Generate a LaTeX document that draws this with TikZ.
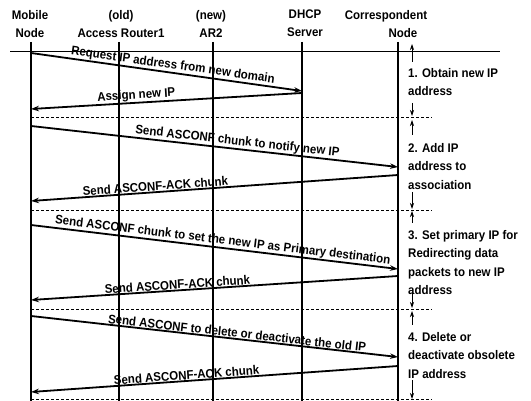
\documentclass[tikz,border=0pt]{standalone}
\usepackage{fontspec}
\setmainfont{Liberation Sans}[FakeStretch=0.92]
\usetikzlibrary{arrows.meta}
\tikzset{head/.style={anchor=north,align=center,inner sep=0pt,
font=\bfseries\fontsize{12.5}{18}\selectfont}}
\tikzset{lifeline/.style={line width=1.1pt}}
\tikzset{msg/.style={line width=1.8pt,-{Stealth[length=8pt,width=5.5pt]}}}
\tikzset{msglabel/.style={sloped,above=0.5pt,inner sep=0pt,
font=\bfseries\fontsize{12.5}{15}\selectfont}}
\tikzset{phasesep/.style={dash pattern=on 3pt off 2pt,line width=0.6pt}}
\tikzset{phasearrow/.style={line width=0.7pt,-{Stealth[length=6pt,width=4pt]}}}
\tikzset{phasetext/.style={anchor=north west,align=left,inner sep=0pt,
font=\bfseries\fontsize{12.5}{18.5}\selectfont}}

\begin{document}
\begin{tikzpicture}[x=1pt,y=-1pt]
        \useasboundingbox (0,0) rectangle (531,401);

        \node[head] (mn) at (30,10) {Mobile\\Node};
        \node[head] (arA) at (121,10) {(old)\\Access Router1};
        \node[head] (arB) at (211,10) {(new)\\AR2};
        \node[head] (dhcp) at (305,10) {DHCP\\Server};
        \node[head] (cn) at (386,10) {Correspondent\\\hspace*{34pt}Node};

        \foreach \x/\n in {31/mn,119/arA,213/arB,302/dhcp,398/cn} {
            \coordinate (\n top) at (\x,42);
            \coordinate (\n bot) at (\x,401);
            \draw[lifeline] (\n top) -- (\n bot);
        }

        \coordinate (rulel) at (10,51);
        \coordinate (ruler) at (500,51);
        \draw[line width=0.8pt] (rulel) -- (ruler);

        \foreach \y/\n in {117/sepA,210/sepB,309/sepC,399/sepD} {
            \coordinate (\n l) at (31,\y);
            \coordinate (\n r) at (432,\y);
            \draw[phasesep] (\n l) -- (\n r);
        }

        % messages
        \coordinate (mnA) at (31,53);    \coordinate (dhcpA) at (302,91);
        \coordinate (dhcpB) at (302,93); \coordinate (mnB) at (31,109);
        \coordinate (mnC) at (31,126);   \coordinate (cnC) at (398,167);
        \coordinate (cnD) at (398,175);  \coordinate (mnD) at (31,201);
        \coordinate (mnE) at (31,225);   \coordinate (cnE) at (398,269);
        \coordinate (cnF) at (398,276);  \coordinate (mnF) at (31,300);
        \coordinate (mnG) at (31,316);   \coordinate (cnG) at (398,357);
        \coordinate (cnH) at (398,366);  \coordinate (mnH) at (31,392);

        \draw[msg] (mnA) -- node[msglabel,pos=0.52] {Request IP address from new domain} (dhcpA);
        \draw[msg] (dhcpB) -- node[msglabel,pos=0.61] {Assign new IP} (mnB);
        \draw[msg] (mnC) -- node[msglabel,pos=0.56] {Send ASCONF chunk to notify new IP} (cnC);
        \draw[msg] (cnD) -- node[msglabel,pos=0.66] {Send ASCONF-ACK chunk} (mnD);
        \draw[msg] (mnE) -- node[msglabel,pos=0.52] {Send ASCONF chunk to set the new IP as Primary destination} (cnE);
        \draw[msg] (cnF) -- node[msglabel,pos=0.6] {Send ASCONF-ACK chunk} (mnF);
        \draw[msg] (mnG) -- node[msglabel,pos=0.56] {Send ASCONF to delete or deactivate the old IP} (cnG);
        \draw[msg] (cnH) -- node[msglabel,pos=0.575] {Send ASCONF-ACK chunk} (mnH);

        % phases
        \node[phasetext] (phA) at (408,68) {1. Obtain new IP\\address};
        \node[phasetext] (phB) at (408,143) {2. Add IP\\address to\\association};
        \node[phasetext] (phC) at (408,230) {3. Set primary IP for\\Redirecting data\\packets to new IP\\address};
        \node[phasetext] (phD) at (408,332) {4. Delete or\\deactivate obsolete\\IP address};

        \foreach \a/\b/\c/\d [count=\i] in {62/44/103/116,135/120/192/209,223/211/292/308,325/311/380/399} {
            \coordinate (brk\i a) at (412,\a);
            \coordinate (brk\i b) at (412,\b);
            \coordinate (brk\i c) at (412,\c);
            \coordinate (brk\i d) at (412,\d);
            \draw[phasearrow] (brk\i a) -- (brk\i b);
            \draw[phasearrow] (brk\i c) -- (brk\i d);
        }

\end{tikzpicture}
\end{document}
